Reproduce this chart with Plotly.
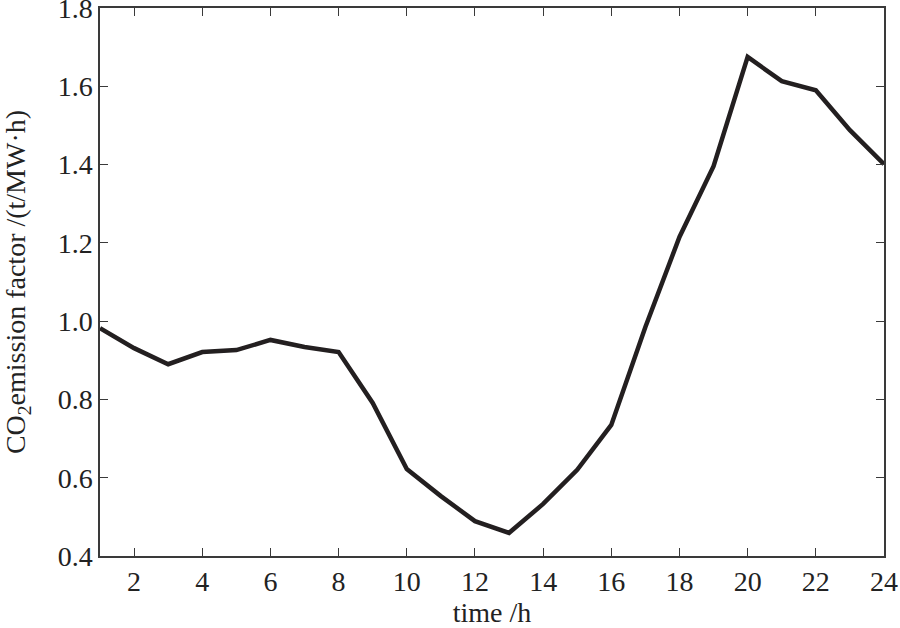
import plotly.graph_objects as go

hours = list(range(1, 25))
co2_factor = [0.982, 0.931, 0.890, 0.921, 0.926, 0.952, 0.934, 0.921,
              0.791, 0.622, 0.553, 0.489, 0.459, 0.533, 0.620, 0.735,
              0.985, 1.215, 1.396, 1.675, 1.613, 1.590, 1.488, 1.401]

x_ticks = list(range(2, 25, 2))
y_ticks = [0.4, 0.6, 0.8, 1.0, 1.2, 1.4, 1.6, 1.8]

FONT = "Liberation Serif"
AXIS_COLOR = "#3a3a3a"
TEXT_COLOR = "#222222"
FS = 28

fig = go.Figure(go.Scatter(
    x=hours, y=co2_factor, mode="lines",
    line=dict(color="#231f20", width=4.5),
    showlegend=False,
))

axis_common = dict(
    showline=True, linecolor=AXIS_COLOR, linewidth=1.5, mirror="ticks",
    ticks="inside", ticklen=8, tickwidth=1.3, tickcolor=AXIS_COLOR,
    showgrid=False, zeroline=False, ticklabeloverflow="allow",
    tickfont=dict(family=FONT, size=FS, color=TEXT_COLOR),
)

fig.update_xaxes(
    range=[1, 24], tickvals=x_ticks,
    title=dict(text="time /h", font=dict(family=FONT, size=FS, color=TEXT_COLOR), standoff=4),
    **axis_common,
)
fig.update_yaxes(
    range=[0.4, 1.8], tickvals=y_ticks, tickformat=".1f",
    title=dict(text="CO<sub>2</sub>emission factor /(t/MW·h)",
               font=dict(family=FONT, size=FS, color=TEXT_COLOR), standoff=26),
    **axis_common,
)

fig.update_layout(
    width=900, height=628,
    margin=dict(l=100, r=16, t=8, b=72, autoexpand=False),
    paper_bgcolor="white", plot_bgcolor="white",
    font=dict(family=FONT, size=FS, color=TEXT_COLOR),
)

# page has a default 8px body margin; drop it so the figure sits at the corner
fig.write_html("out.html", config={"displayModeBar": False},
               post_script="document.body.style.margin='0';")
